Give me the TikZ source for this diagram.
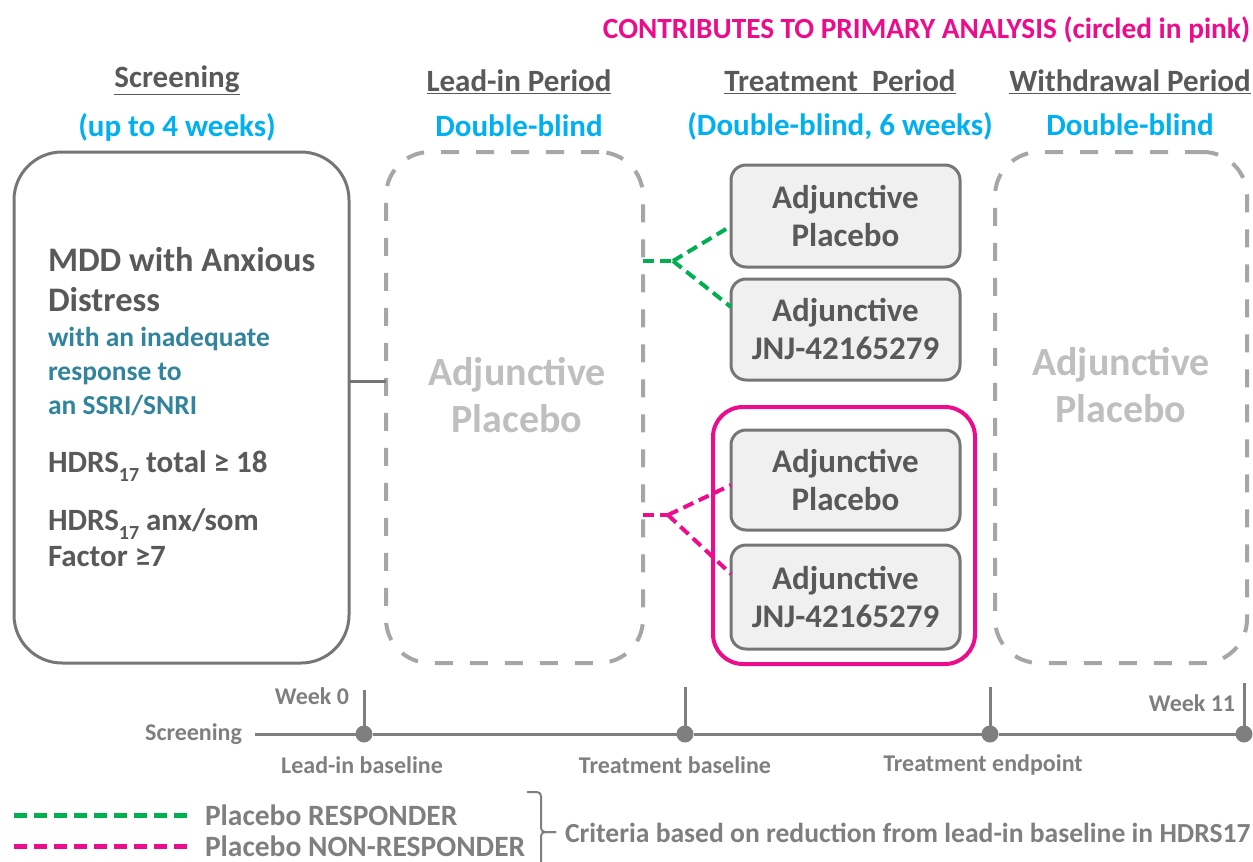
\documentclass[tikz,border=0pt]{standalone}
\usepackage{fontspec}
\setmainfont{Carlito}[BoldFont={Carlito Bold}]
\definecolor{hd}{HTML}{595959}
\definecolor{bl}{HTML}{00B0F0}
\definecolor{tl}{HTML}{31849B}
\definecolor{pk}{HTML}{EC0C8C}
\definecolor{gr}{HTML}{00B050}
\definecolor{lg}{HTML}{BFBFBF}
\definecolor{dg}{HTML}{A6A6A6}
\definecolor{bx}{HTML}{767676}
\definecolor{bf}{HTML}{F0F0F0}
\definecolor{tg}{HTML}{7F7F7F}
\newcommand\lowsub[1]{\raisebox{-0.3em}{\fontsize{20}{20}\selectfont #1}}
\begin{document}
\begin{tikzpicture}[x=1pt,y=-1pt,
  every node/.style={inner sep=0pt,outer sep=0pt,font=\bfseries},
  head/.style={text=hd,font=\fontsize{31}{36}\selectfont\bfseries},
  sub/.style={text=bl,font=\fontsize{31}{36}\selectfont\bfseries},
  solidbox/.style={draw=bx,line width=3pt,rounded corners=48pt},
  dashbox/.style={draw=dg,line width=4pt,rounded corners=44pt,dash pattern=on 18pt off 17pt},
  armbox/.style={draw=bx,fill=bf,line width=3pt,rounded corners=15pt,text=hd,align=center,
     font=\fontsize{33}{38}\selectfont\bfseries},
  ghost/.style={text=lg,align=center,font=\fontsize{40}{47}\selectfont\bfseries},
  crit/.style={text=hd,anchor=base west,font=\fontsize{34.4}{38}\selectfont\bfseries},
  critc/.style={text=hd,anchor=base west,font=\fontsize{31}{36}\selectfont\bfseries},
  critb/.style={text=tl,anchor=base west,font=\fontsize{27.5}{32}\selectfont\bfseries},
  gconn/.style={draw=gr,line width=4pt,dash pattern=on 11pt off 6pt},
  pconn/.style={draw=pk,line width=4pt,dash pattern=on 11pt off 6pt},
  tline/.style={draw=tg,line width=3pt},
  tlab/.style={text=tg,font=\fontsize{24}{28}\selectfont\bfseries},
  dot/.style={circle,fill=tg,minimum size=17pt},
  leg/.style={text=tg,anchor=west,font=\fontsize{29.5}{34}\selectfont\bfseries}
]
\useasboundingbox (0,0) rectangle (1253,862);
% title
\node[text=pk,anchor=east,font=\fontsize{29.3}{34}\selectfont\bfseries] (title) at (1250,30) {CONTRIBUTES TO PRIMARY ANALYSIS (circled in pink)};
% headings
\node[head] (h1) at (177,80) {\underline{Screening}};
\node[sub] (s1) at (177,127) {(up to 4 weeks)};
\node[head] (h2) at (519,82) {\underline{Lead-in Period}};
\node[sub] (s2) at (519,126) {Double-blind};
\node[head] (h3) at (840,82) {\underline{Treatment\ \ Period}};
\node[sub] (s3) at (840,126) {(Double-blind, 6 weeks)};
\node[head] (h4) at (1130,82) {\underline{Withdrawal Period}};
\node[sub] (s4) at (1130,125) {Double-blind};
% boxes
\node[solidbox,minimum width=335pt,minimum height=511pt] (scr) at (181.5,407.5) {};
\node[dashbox,minimum width=257pt,minimum height=511pt] (lead) at (514.5,407.5) {};
\node[dashbox,minimum width=252pt,minimum height=511pt] (wd) at (1121,407.5) {};
\node[draw=pk,line width=4pt,rounded corners=30pt,minimum width=262pt,minimum height=257pt] (pkbox) at (844,535.5) {};
% screening text
\node[crit] (c1) at (48,271) {MDD with Anxious};
\node[crit] (c2) at (48,311) {Distress};
\node[critb] (c3) at (48,346) {with an inadequate};
\node[critb] (c4) at (48,380) {response to};
\node[critb] (c5) at (48,414) {an SSRI/SNRI};
\node[critc] (c6) at (48,472) {HDRS\lowsub{17} total ≥ 18};
\node[critc] (c7) at (48,530) {HDRS\lowsub{17} anx/som};
\node[critc] (c8) at (48,566) {Factor ≥7};
% ghost texts
\node[ghost] (g1) at (517,395) {Adjunctive\\Placebo};
\node[ghost] (g2) at (1121,385) {Adjunctive\\Placebo};
% arm boxes
\node[armbox,minimum width=229pt,minimum height=102pt] (t1) at (845.5,216) {Adjunctive\\Placebo};
\node[armbox,minimum width=229pt,minimum height=101pt] (t2) at (845.5,329.5) {Adjunctive\\JNJ-42165279};
\node[armbox,minimum width=229pt,minimum height=100pt] (t3) at (845.5,480) {Adjunctive\\Placebo};
\node[armbox,minimum width=229pt,minimum height=104pt] (t4) at (845.5,597) {Adjunctive\\JNJ-42165279};
% connectors
\draw[bx,line width=3pt] (scr.east |- 0,381) -- (lead.west |- 0,381);
\coordinate (gs) at (lead.east |- 0,261);
\coordinate (gb) at (673,261);
\draw[gconn] (gs) -- (gb);
\draw[gconn] (gb) -- (t1.west |- 0,226);
\draw[gconn] (gb) -- (t2.west |- 0,307);
\coordinate (ps) at (lead.east |- 0,515);
\coordinate (pb) at (668,515);
\draw[pconn] (ps) -- (pb);
\draw[pconn] (pb) -- (t3.west |- 0,485);
\draw[pconn] (pb) -- (t4.west |- 0,574);
% timeline
\node[tlab,anchor=east] (tscr) at (242,734) {Screening};
\coordinate (tls) at (255,734);
\node[dot] (d0) at (364,734) {};
\node[dot] (d1) at (685,734) {};
\node[dot] (d2) at (990,734) {};
\node[dot] (d3) at (1244,734) {};
\draw[tline] (tls) -- (d0) -- (d1) -- (d2) -- (d3);
\coordinate (k0) at (364,690);
\coordinate (k1) at (685,687);
\coordinate (k2) at (990,687);
\coordinate (k3) at (1244,683);
\draw[tline] (k0) -- (d0.center);
\draw[tline] (k1) -- (d1.center);
\draw[tline] (k2) -- (d2.center);
\draw[tline] (k3) -- (d3.center);
\node[tlab] (w0) at (312,696) {Week 0};
\node[tlab] (w11) at (1192,703) {Week 11};
\node[tlab] (l0) at (362,765) {Lead-in baseline};
\node[tlab] (l1) at (675,765) {Treatment baseline};
\node[tlab] (l2) at (983,765) {Treatment endpoint};
% legend
\coordinate (ga) at (14,815);
\coordinate (gz) at (190,815);
\coordinate (pa) at (14,846);
\coordinate (pz) at (190,846);
\draw[draw=gr,line width=5pt,dash pattern=on 13pt off 7pt] (ga) -- (gz);
\draw[draw=pk,line width=5pt,dash pattern=on 13pt off 7pt] (pa) -- (pz);
\node[leg] (lr) at (205,815) {Placebo RESPONDER};
\node[leg] (ln) at (205,846) {Placebo NON-RESPONDER};
\coordinate (ba) at (527,792);
\coordinate (bm) at (541,832);
\coordinate (bt) at (556,832);
\coordinate (bz) at (541,872);
\draw[tg,line width=2pt,rounded corners=4pt] (ba) -- (ba -| bm) -- (bm) -- (bt);
\draw[tg,line width=2pt,rounded corners=4pt] (bt) -- (bm) -- (bz);
\node[text=tg,anchor=west,font=\fontsize{27.6}{31}\selectfont\bfseries] (critn) at (565,833) {Criteria based on reduction from lead-in baseline in HDRS17};
\end{tikzpicture}
\end{document}
